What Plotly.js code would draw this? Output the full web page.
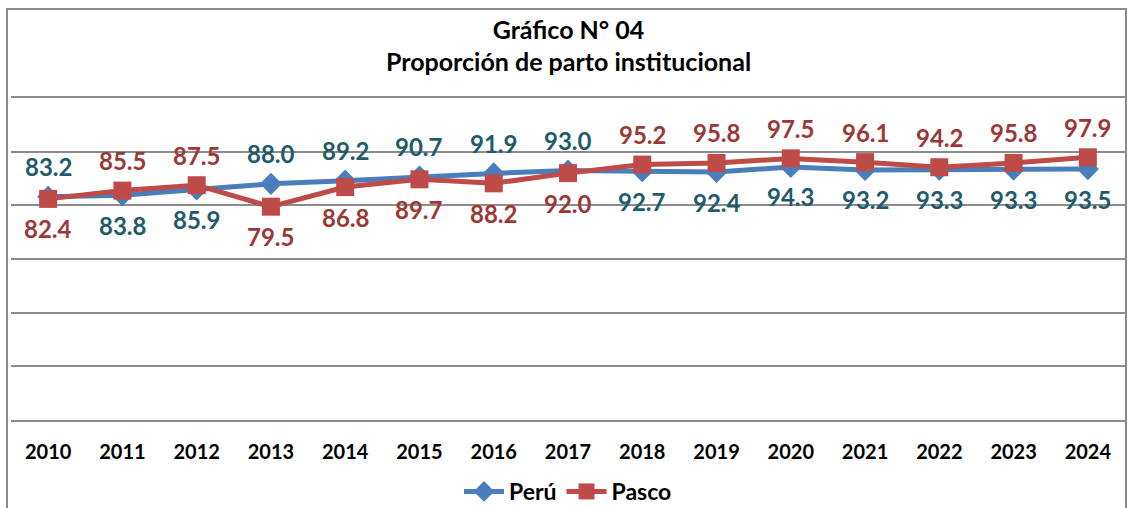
<!DOCTYPE html>
<html><head><meta charset="utf-8">
<script src="https://cdn.plot.ly/plotly-3.0.1.min.js"></script>
<style>
html,body{margin:0;padding:0;background:#fff;overflow:hidden;}
#frame{position:absolute;left:6px;top:8px;width:1121px;height:520px;border-left:2px solid #8a8a8a;border-top:2px solid #8a8a8a;border-right:2px solid #8a8a8a;box-sizing:border-box;}
#chart{position:absolute;left:0;top:0;width:1128px;height:508px;}
</style>
</head><body>
<div id="frame"></div>
<div id="chart"></div>
<script>
const years = [2010,2011,2012,2013,2014,2015,2016,2017,2018,2019,2020,2021,2022,2023,2024];
const peru  = [83.2,83.8,85.9,88.0,89.2,90.7,91.9,93.0,92.7,92.4,94.3,93.2,93.3,93.3,93.5];
const pasco = [82.4,85.5,87.5,79.5,86.8,89.7,88.2,92.0,95.2,95.8,97.5,96.1,94.2,95.8,97.9];
const seriesNames = ['Perú','Pasco'];

// label placement (style): +1 above, -1 below
const peruSide  = [1,-1,-1,1,1,1,1,1,-1,-1,-1,-1,-1,-1,-1];
const pascoSide = [-1,1,1,-1,-1,-1,-1,-1,1,1,1,1,1,1,1];

const FONT = 'Lato, "Liberation Sans", sans-serif';
const peruLine = '#4a7ebb', pascoLine = '#be4b48';
const peruText = '#215a69', pascoText = '#9b3835';
const GRID = '#8c8c8c';

const traces = [
  {x: years, y: peru, name: seriesNames[0], type: 'scatter', mode: 'lines+markers',
   line: {color: peruLine, width: 5}, marker: {symbol: 'diamond', size: 17, color: peruLine}},
  {x: years, y: pasco, name: seriesNames[1], type: 'scatter', mode: 'lines+markers',
   line: {color: pascoLine, width: 5}, marker: {symbol: 'square', size: 18, color: pascoLine}}
];

const annotations = [];
function addLabels(vals, sides, color) {
  vals.forEach((v, i) => {
    annotations.push({x: years[i], y: v, xref: 'x', yref: 'y', text: v.toFixed(1), showarrow: false,
      yshift: sides[i] * 30, font: {family: FONT, size: 24, color: color, weight: 'bold'}});
  });
}
addLabels(peru, peruSide, peruText);
addLabels(pasco, pascoSide, pascoText);

const layout = {
  width: 1128, height: 508,
  margin: {l: 11, r: 3, t: 98, b: 88, autoexpand: false},
  paper_bgcolor: 'rgba(0,0,0,0)', plot_bgcolor: 'rgba(0,0,0,0)',
  title: {text: 'Gráfico N° 04<br>Proporción de parto institucional', x: 0.504, xanchor: 'center',
          y: 0.924, yanchor: 'middle', yref: 'container',
          font: {family: FONT, size: 25, color: '#000', weight: 'bold'}},
  xaxis: {type: 'linear', range: [years[0] - 0.5, years[years.length - 1] + 0.5], tickmode: 'array',
          tickvals: years, ticktext: years.map(String),
          showgrid: false, zeroline: false, showline: true, mirror: true, linecolor: GRID, linewidth: 2, ticks: '',
          tickfont: {family: FONT, size: 20, color: '#000', weight: 'bold'}, ticklabelstandoff: 13},
  yaxis: {range: [0, 120], dtick: 20, showticklabels: false, showgrid: true, gridcolor: GRID,
          gridwidth: 2, zeroline: false, showline: false, fixedrange: true},
  showlegend: true,
  legend: {orientation: 'h', x: 0.5, xanchor: 'center', y: -0.222, yanchor: 'middle',
           font: {family: FONT, size: 23, color: '#000', weight: 'bold'}, itemwidth: 40, bgcolor: 'rgba(0,0,0,0)'},
  annotations: annotations
};

Plotly.newPlot('chart', traces, layout, {displayModeBar: false, staticPlot: true});
</script>
</body></html>
